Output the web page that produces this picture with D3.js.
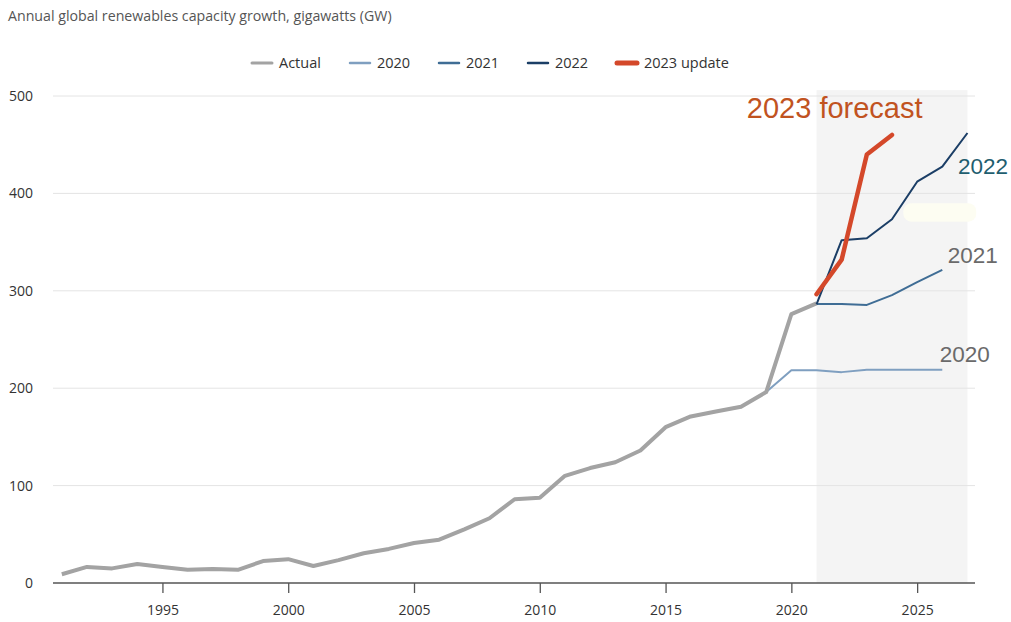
<!DOCTYPE html>
<html>
<head>
<meta charset="utf-8">
<script src="https://cdn.jsdelivr.net/npm/d3@7"></script>
<style>
  html, body { margin: 0; padding: 0; background: #fff; }
  svg { display: block; }
</style>
</head>
<body>
<svg id="chart" width="1011" height="622"></svg>
<script>
// ---- data ----
const actualYears = [1991,1992,1993,1994,1995,1996,1997,1998,1999,2000,2001,2002,2003,2004,2005,2006,2007,2008,2009,2010,2011,2012,2013,2014,2015,2016,2017,2018,2019,2020,2021];
const actualValues = [9,16.5,15,19.5,16.5,13.5,14.5,13.5,22.5,24.5,17.5,23.5,30.5,35,41,44.5,55,66.5,86,87.5,110,118,124,136,160,171,176,181,196,276,287];

const f2020Years = [2019,2020,2021,2022,2023,2024,2025,2026];
const f2020Values = [196,218.5,218.5,216.5,219,219,219,219];

const f2021Years = [2021,2022,2023,2024,2025,2026];
const f2021Values = [286.5,286.5,285.5,295.5,309,321.5];

const f2022Years = [2021,2022,2023,2024,2025,2026,2027];
const f2022Values = [286,352,354,373.5,412,427.5,462];

const f2023Years = [2021,2022,2023,2024];
const f2023Values = [296.5,332,440,460];

const yTicks = [0,100,200,300,400,500];
const xTicks = [1995,2000,2005,2010,2015,2020,2025];

const legendLabels = ["Actual","2020","2021","2022","2023 update"];
const forecastShade = [2021, 2027];

const annoLabels = ["2023 forecast","2022","2021","2020"];
const annoYears = [2018.23, 2026.62, 2026.22, 2025.9];
const annoValues = [477.4, 419.9, 328.5, 226.9];

// ---- styles ----
const seriesStyle = [
  {color:"#a3a3a3", width:4,   lw:3},
  {color:"#7f9fc0", width:2,   lw:2.5},
  {color:"#3f6d95", width:2,   lw:2.5},
  {color:"#1b3e66", width:2,   lw:2.5},
  {color:"#d4482a", width:4.5, lw:5}
];
const annoColors = ["#c1531f","#1f5e6f","#6a6a6a","#6a6a6a"];
const annoSizes = [29,22.5,22.5,22.5];

const svg = d3.select("#chart");
const sansFont = "'Open Sans', 'Noto Sans', sans-serif";

const x = d3.scaleLinear().domain([1990.65, 2027.3]).range([53, 975]);
const y = d3.scaleLinear().domain([0, 500]).range([583, 96]);

// shaded forecast area
svg.append("rect")
  .attr("x", x(forecastShade[0]))
  .attr("y", y(506))
  .attr("width", x(forecastShade[1]) - x(forecastShade[0]))
  .attr("height", y(0) - y(506))
  .attr("fill", "#f4f4f4");

// faint highlight artifact
svg.append("rect")
  .attr("x", x(2024.45)).attr("y", y(390))
  .attr("width", x(2027.35) - x(2024.45)).attr("height", y(371) - y(390))
  .attr("rx", 8)
  .attr("fill", "#fdfdf2");

// gridlines
svg.append("g")
  .selectAll("line")
  .data(yTicks.filter(d => d > 0))
  .join("line")
  .attr("x1", x.range()[0]).attr("x2", x.range()[1])
  .attr("y1", d => y(d)).attr("y2", d => y(d))
  .attr("stroke", "#e4e4e4").attr("stroke-width", 1);

// y axis labels
const yAxis = d3.axisLeft(y).tickValues(yTicks).tickSize(0).tickPadding(20);
const yg = svg.append("g").attr("transform", `translate(${x.range()[0]},0)`).call(yAxis);
yg.select(".domain").remove();
yg.selectAll("text").attr("font-family", sansFont).attr("font-size", 14).attr("fill", "#333");

// x axis
const xAxis = d3.axisBottom(x).tickValues(xTicks).tickFormat(d3.format("d")).tickSize(10).tickPadding(12);
const xg = svg.append("g").attr("transform", `translate(0,${y(0)})`).call(xAxis);
xg.select(".domain").attr("stroke", "#555").attr("stroke-width", 1.3).attr("d", `M${x.range()[0]},0H${x.range()[1]}`);
xg.selectAll(".tick line").attr("stroke", "#555").attr("stroke-width", 1.3);
xg.selectAll("text").attr("font-family", sansFont).attr("font-size", 14).attr("fill", "#333");

// lines
const series = [
  [actualYears, actualValues],
  [f2020Years, f2020Values],
  [f2021Years, f2021Values],
  [f2022Years, f2022Values],
  [f2023Years, f2023Values]
];
const line = d3.line().x(d => x(d[0])).y(d => y(d[1]));
const drawOrder = [1,2,0,3,4];
drawOrder.forEach(i => {
  const [ys, vs] = series[i];
  const pts = ys.map((yr, k) => [yr, vs[k]]);
  svg.append("path")
    .datum(pts)
    .attr("d", line)
    .attr("fill", "none")
    .attr("stroke", seriesStyle[i].color)
    .attr("stroke-width", seriesStyle[i].width)
    .attr("stroke-linejoin", "round")
    .attr("stroke-linecap", i === 4 ? "round" : "butt");
});

// annotations
svg.append("g").selectAll("text")
  .data(annoLabels)
  .join("text")
  .attr("x", (d,i) => x(annoYears[i]))
  .attr("y", (d,i) => y(annoValues[i]))
  .attr("font-family", "'Liberation Sans', Arial, sans-serif")
  .attr("font-size", (d,i) => annoSizes[i])
  .attr("fill", (d,i) => annoColors[i])
  .text(d => d);

// title
svg.append("text")
  .attr("x", 8).attr("y", 21)
  .attr("font-family", sansFont).attr("font-size", 14.2)
  .attr("fill", "#555")
  .text("Annual global renewables capacity growth, gigawatts (GW)");

// legend
const legendX = [252, 350, 439, 528, 617];
const lg = svg.append("g").attr("transform", "translate(0,63)");
legendLabels.forEach((lab, i) => {
  lg.append("line")
    .attr("x1", legendX[i]).attr("x2", legendX[i] + 20)
    .attr("y1", 0).attr("y2", 0)
    .attr("stroke", seriesStyle[i].color)
    .attr("stroke-width", seriesStyle[i].lw)
    .attr("stroke-linecap", "round");
  lg.append("text")
    .attr("x", legendX[i] + 27).attr("y", 5)
    .attr("font-family", sansFont).attr("font-size", 14.5)
    .attr("fill", "#333")
    .text(lab);
});
</script>
</body>
</html>
